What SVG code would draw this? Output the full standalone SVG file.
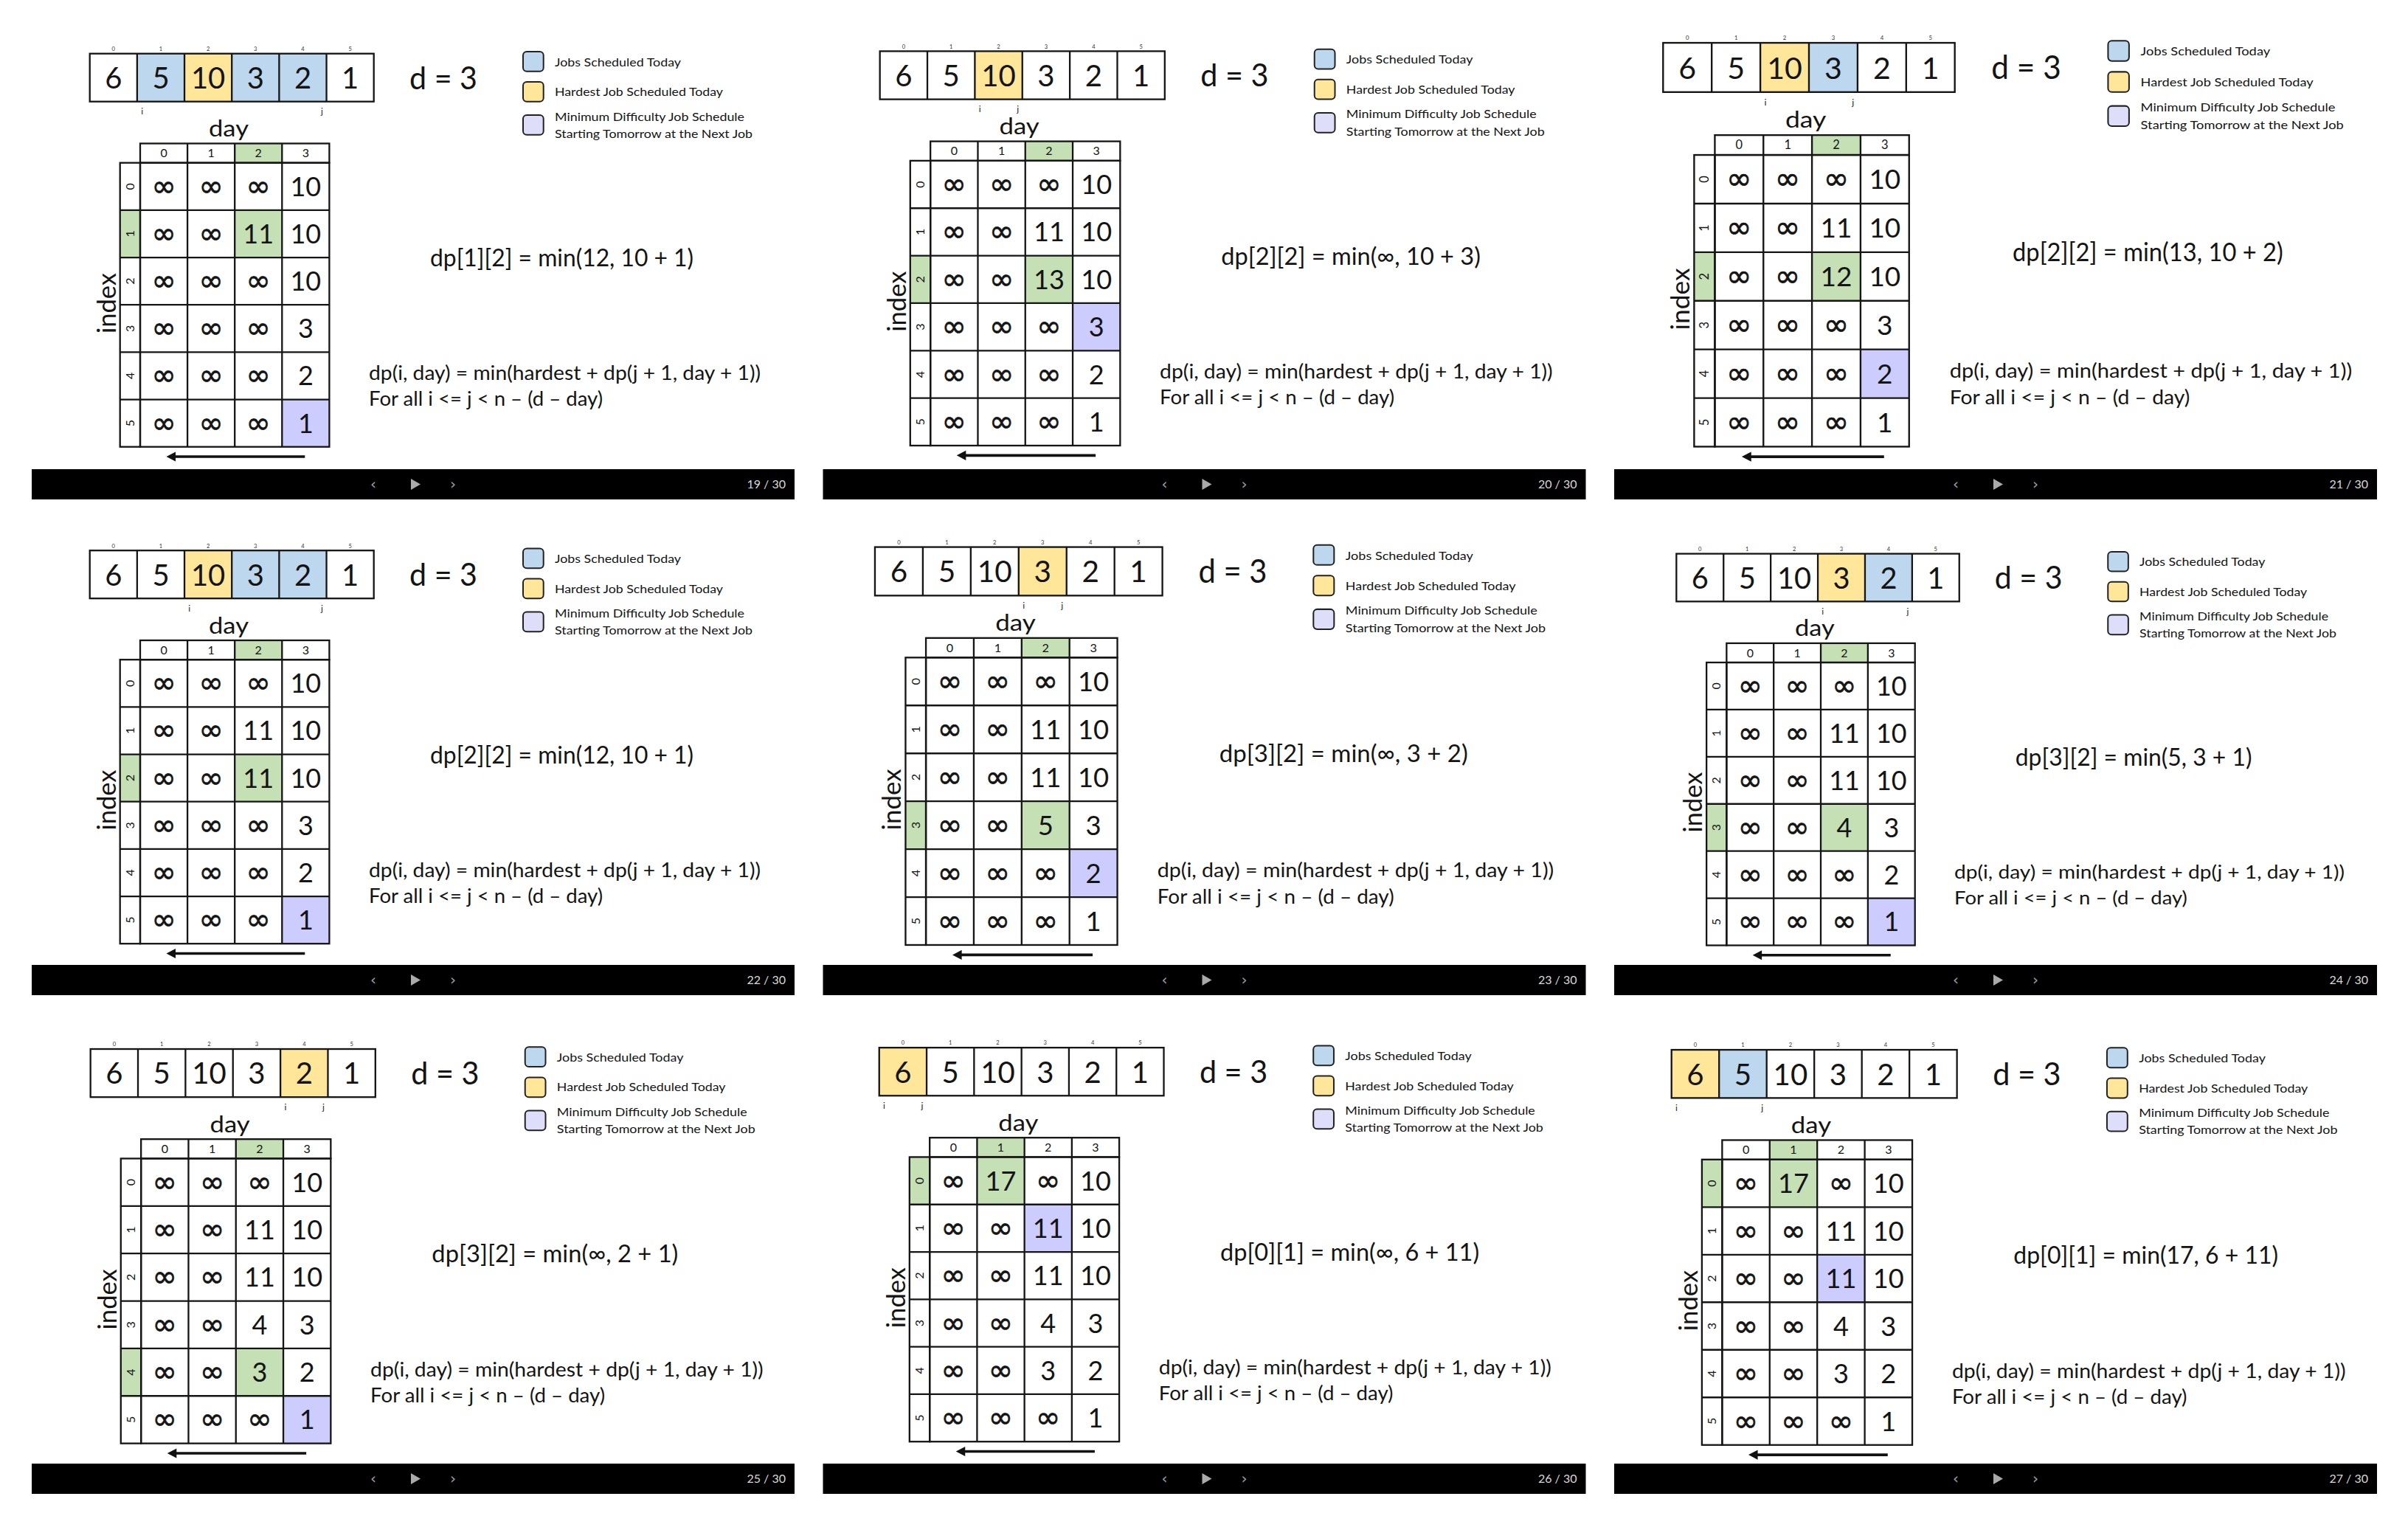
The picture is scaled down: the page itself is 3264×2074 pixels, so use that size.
<svg xmlns="http://www.w3.org/2000/svg" xmlns:xlink="http://www.w3.org/1999/xlink" width="3264" height="2074" viewBox="0 0 3264 2074">
<defs>
<style>
.ln{fill:none;stroke:#151515;stroke-width:2.3}
.bl{fill:#BDD7EE}.yl{fill:#FFE699}.gr{fill:#C5E0B4}.pu{fill:#CCCCFF}.pl{fill:#DEDEFA}
.t{font-family:Lato,'DejaVu Sans',sans-serif;fill:#141414}
.an{font-size:40px;text-anchor:middle}
.ai{font-size:7.5px;text-anchor:middle;fill:#333}
.hd{font-size:16px;text-anchor:middle}
.nv{font-size:36px;text-anchor:middle}
.inf{font-family:'DejaVu Sans',sans-serif;font-size:40px;text-anchor:middle;fill:#141414;stroke:#141414;stroke-width:0.7}
.lg{font-size:15.5px}
.f1{font-size:33px}
.f2{font-size:26px}
.ij{font-size:12px;text-anchor:middle;fill:#222}
.lb{stroke:#222;stroke-width:2}
.bar{fill:#000}
.ctl{font-family:'DejaVu Sans',sans-serif;font-size:20px;fill:#9a9a9a;text-anchor:middle}
.pg{font-family:Lato,sans-serif;font-size:16px;fill:#d8d8d8;text-anchor:end}
</style>
<g id="tpl">
<rect class="ln" x="121.7" y="72.7" width="385" height="65"/>
<path class="ln" d="M185.87 72.7V137.7M250.04 72.7V137.7M314.21 72.7V137.7M378.38 72.7V137.7M442.55 72.7V137.7"/>
<g class="t an">
<text x="153.8" y="120">6</text><text x="218" y="120">5</text><text x="282.1" y="120">10</text><text x="346.3" y="120">3</text><text x="410.5" y="120">2</text><text x="474.6" y="120">1</text>
</g>
<g class="t ai">
<text x="153.8" y="69">0</text><text x="218" y="69">1</text><text x="282.1" y="69">2</text><text x="346.3" y="69">3</text><text x="410.5" y="69">4</text><text x="474.6" y="69">5</text>
</g>
<text class="t" x="555" y="120.5" font-size="43" textLength="92" lengthAdjust="spacingAndGlyphs">d = 3</text>
<rect class="bl lb" x="709" y="70" width="27.7" height="26.7" rx="5"/>
<rect class="yl lb" x="709" y="111" width="27.7" height="26.7" rx="5"/>
<rect class="pl lb" x="709" y="156" width="27.7" height="26.7" rx="5"/>
<g class="t lg">
<text x="752" y="89.5" textLength="171" lengthAdjust="spacingAndGlyphs">Jobs Scheduled Today</text>
<text x="752" y="130" textLength="228" lengthAdjust="spacingAndGlyphs">Hardest Job Scheduled Today</text>
<text x="752" y="163.5" textLength="257" lengthAdjust="spacingAndGlyphs">Minimum Difficulty Job Schedule</text>
<text x="752" y="186.5" textLength="268" lengthAdjust="spacingAndGlyphs">Starting Tomorrow at the Next Job</text>
</g>
<text class="t" x="283" y="185" font-size="30" textLength="54" lengthAdjust="spacingAndGlyphs">day</text>
<rect class="ln" x="190" y="194.5" width="256.4" height="26.2"/>
<path class="ln" d="M254.1 194.5V220.7M318.2 194.5V220.7M382.3 194.5V220.7"/>
<g class="t hd">
<text x="222.05" y="213.3">0</text><text x="286.15" y="213.3">1</text><text x="350.25" y="213.3">2</text><text x="414.35" y="213.3">3</text>
</g>
<rect class="ln" x="162.7" y="220.7" width="27.3" height="385"/>
<rect class="ln" x="190" y="220.7" width="256.4" height="385"/>
<path class="ln" d="M162.7 284.87H446.4M162.7 349.04H446.4M162.7 413.21H446.4M162.7 477.38H446.4M162.7 541.55H446.4M254.1 220.7V605.7M318.2 220.7V605.7M382.3 220.7V605.7"/>
<g class="t hd">
<text transform="translate(176.35,252.8) rotate(-90)" y="5.7">0</text>
<text transform="translate(176.35,316.95) rotate(-90)" y="5.7">1</text>
<text transform="translate(176.35,381.1) rotate(-90)" y="5.7">2</text>
<text transform="translate(176.35,445.3) rotate(-90)" y="5.7">3</text>
<text transform="translate(176.35,509.45) rotate(-90)" y="5.7">4</text>
<text transform="translate(176.35,573.6) rotate(-90)" y="5.7">5</text>
</g>
<g class="inf">
<text x="222.05" y="265.8">∞</text><text x="222.05" y="329.95">∞</text><text x="222.05" y="394.1">∞</text><text x="222.05" y="458.3">∞</text><text x="222.05" y="522.45">∞</text><text x="222.05" y="586.6">∞</text>
</g>
<g class="t nv">
<text x="414.35" y="265.8">10</text><text x="414.35" y="329.95">10</text><text x="414.35" y="394.1">10</text><text x="414.35" y="458.3">3</text><text x="414.35" y="522.45">2</text><text x="414.35" y="586.6">1</text>
</g>
<text class="t" transform="translate(144,411) rotate(-90)" x="-41" y="12.7" font-size="34" textLength="82" lengthAdjust="spacingAndGlyphs">index</text>
<path d="M413.3 619H236" stroke="#111" stroke-width="3.6"/>
<polygon points="225.5,619 238,612.5 238,625.5" fill="#111"/>
<g class="t f2">
<text x="500" y="515" textLength="531" lengthAdjust="spacingAndGlyphs">dp(i, day) = min(hardest + dp(j + 1, day + 1))</text>
<text x="500" y="550" textLength="317" lengthAdjust="spacingAndGlyphs">For all i &lt;= j &lt; n – (d – day)</text>
</g>
</g>
</defs>
<rect width="3264" height="2074" fill="#fff"/>

<g id="panel-19">
<rect class="bl" x="185.87" y="72.7" width="64.17" height="65"/><rect class="yl" x="250.04" y="72.7" width="64.17" height="65"/><rect class="bl" x="314.21" y="72.7" width="64.17" height="65"/><rect class="bl" x="378.38" y="72.7" width="64.17" height="65"/>
<rect class="gr" x="318.2" y="194.5" width="64.1" height="26.2"/><rect class="gr" x="162.7" y="284.87" width="27.3" height="64.17"/><rect class="gr" x="318.2" y="284.87" width="64.1" height="64.17"/>
<rect class="pu" x="382.3" y="541.55" width="64.1" height="64.17"/>
<use xlink:href="#tpl"/>
<g class="inf"><text x="286.15" y="265.8">∞</text><text x="286.15" y="329.95">∞</text><text x="286.15" y="394.1">∞</text><text x="286.15" y="458.3">∞</text><text x="286.15" y="522.45">∞</text><text x="286.15" y="586.6">∞</text>
<text x="350.25" y="265.8">∞</text><text x="350.25" y="394.1">∞</text><text x="350.25" y="458.3">∞</text><text x="350.25" y="522.45">∞</text><text x="350.25" y="586.6">∞</text></g>
<g class="t nv"><text x="350.25" y="329.95">11</text></g>
<g class="t ij"><text x="192.7" y="155">i</text><text x="436.5" y="155">j</text></g>
<text class="t f1" x="583" y="361" textLength="357" lengthAdjust="spacingAndGlyphs">dp[1][2] = min(12, 10 + 1)</text>
</g>

<g id="panel-20" transform="translate(1070.6,-3.5) scale(1.003)">
<rect class="yl" x="250.04" y="72.7" width="64.17" height="65"/>
<rect class="gr" x="318.2" y="194.5" width="64.1" height="26.2"/><rect class="gr" x="162.7" y="349.04" width="27.3" height="64.17"/><rect class="gr" x="318.2" y="349.04" width="64.1" height="64.17"/>
<rect class="pu" x="382.3" y="413.21" width="64.1" height="64.17"/>
<use xlink:href="#tpl"/>
<g class="inf"><text x="286.15" y="265.8">∞</text><text x="286.15" y="329.95">∞</text><text x="286.15" y="394.1">∞</text><text x="286.15" y="458.3">∞</text><text x="286.15" y="522.45">∞</text><text x="286.15" y="586.6">∞</text>
<text x="350.25" y="265.8">∞</text><text x="350.25" y="458.3">∞</text><text x="350.25" y="522.45">∞</text><text x="350.25" y="586.6">∞</text></g>
<g class="t nv"><text x="350.25" y="329.95">11</text><text x="350.25" y="394.1">13</text></g>
<g class="t ij"><text x="256.8" y="155">i</text><text x="308.2" y="155">j</text></g>
<text class="t f1" x="583" y="361" textLength="350.5" lengthAdjust="spacingAndGlyphs">dp[2][2] = min(∞, 10 + 3)</text>
</g>

<g id="panel-21" transform="translate(2129.3,-16.6) scale(1.027)">
<rect class="yl" x="250.04" y="72.7" width="64.17" height="65"/><rect class="bl" x="314.21" y="72.7" width="64.17" height="65"/>
<rect class="gr" x="318.2" y="194.5" width="64.1" height="26.2"/><rect class="gr" x="162.7" y="349.04" width="27.3" height="64.17"/><rect class="gr" x="318.2" y="349.04" width="64.1" height="64.17"/>
<rect class="pu" x="382.3" y="477.38" width="64.1" height="64.17"/>
<use xlink:href="#tpl"/>
<g class="inf"><text x="286.15" y="265.8">∞</text><text x="286.15" y="329.95">∞</text><text x="286.15" y="394.1">∞</text><text x="286.15" y="458.3">∞</text><text x="286.15" y="522.45">∞</text><text x="286.15" y="586.6">∞</text>
<text x="350.25" y="265.8">∞</text><text x="350.25" y="458.3">∞</text><text x="350.25" y="522.45">∞</text><text x="350.25" y="586.6">∞</text></g>
<g class="t nv"><text x="350.25" y="329.95">11</text><text x="350.25" y="394.1">12</text></g>
<g class="t ij"><text x="256.8" y="155">i</text><text x="372.4" y="155">j</text></g>
<text class="t f1" x="583" y="361" textLength="357" lengthAdjust="spacingAndGlyphs">dp[2][2] = min(13, 10 + 2)</text>
</g>

<g id="panel-22" transform="translate(0,673.5)">
<rect class="yl" x="250.04" y="72.7" width="64.17" height="65"/><rect class="bl" x="314.21" y="72.7" width="64.17" height="65"/><rect class="bl" x="378.38" y="72.7" width="64.17" height="65"/>
<rect class="gr" x="318.2" y="194.5" width="64.1" height="26.2"/><rect class="gr" x="162.7" y="349.04" width="27.3" height="64.17"/><rect class="gr" x="318.2" y="349.04" width="64.1" height="64.17"/>
<rect class="pu" x="382.3" y="541.55" width="64.1" height="64.17"/>
<use xlink:href="#tpl"/>
<g class="inf"><text x="286.15" y="265.8">∞</text><text x="286.15" y="329.95">∞</text><text x="286.15" y="394.1">∞</text><text x="286.15" y="458.3">∞</text><text x="286.15" y="522.45">∞</text><text x="286.15" y="586.6">∞</text>
<text x="350.25" y="265.8">∞</text><text x="350.25" y="458.3">∞</text><text x="350.25" y="522.45">∞</text><text x="350.25" y="586.6">∞</text></g>
<g class="t nv"><text x="350.25" y="329.95">11</text><text x="350.25" y="394.1">11</text></g>
<g class="t ij"><text x="256.8" y="155">i</text><text x="436.5" y="155">j</text></g>
<text class="t f1" x="583" y="361" textLength="357" lengthAdjust="spacingAndGlyphs">dp[2][2] = min(12, 10 + 1)</text>
</g>

<g id="panel-23" transform="translate(1062.8,668) scale(1.012)">
<rect class="yl" x="314.21" y="72.7" width="64.17" height="65"/>
<rect class="gr" x="318.2" y="194.5" width="64.1" height="26.2"/><rect class="gr" x="162.7" y="413.21" width="27.3" height="64.17"/><rect class="gr" x="318.2" y="413.21" width="64.1" height="64.17"/>
<rect class="pu" x="382.3" y="477.38" width="64.1" height="64.17"/>
<use xlink:href="#tpl"/>
<g class="inf"><text x="286.15" y="265.8">∞</text><text x="286.15" y="329.95">∞</text><text x="286.15" y="394.1">∞</text><text x="286.15" y="458.3">∞</text><text x="286.15" y="522.45">∞</text><text x="286.15" y="586.6">∞</text>
<text x="350.25" y="265.8">∞</text><text x="350.25" y="522.45">∞</text><text x="350.25" y="586.6">∞</text></g>
<g class="t nv"><text x="350.25" y="329.95">11</text><text x="350.25" y="394.1">11</text><text x="350.25" y="458.3">5</text></g>
<g class="t ij"><text x="321" y="155">i</text><text x="372.4" y="155">j</text></g>
<text class="t f1" x="583" y="361" textLength="333" lengthAdjust="spacingAndGlyphs">dp[3][2] = min(∞, 3 + 2)</text>
</g>

<g id="panel-24" transform="translate(2151.1,678.2) scale(0.996)">
<rect class="yl" x="314.21" y="72.7" width="64.17" height="65"/><rect class="bl" x="378.38" y="72.7" width="64.17" height="65"/>
<rect class="gr" x="318.2" y="194.5" width="64.1" height="26.2"/><rect class="gr" x="162.7" y="413.21" width="27.3" height="64.17"/><rect class="gr" x="318.2" y="413.21" width="64.1" height="64.17"/>
<rect class="pu" x="382.3" y="541.55" width="64.1" height="64.17"/>
<use xlink:href="#tpl"/>
<g class="inf"><text x="286.15" y="265.8">∞</text><text x="286.15" y="329.95">∞</text><text x="286.15" y="394.1">∞</text><text x="286.15" y="458.3">∞</text><text x="286.15" y="522.45">∞</text><text x="286.15" y="586.6">∞</text>
<text x="350.25" y="265.8">∞</text><text x="350.25" y="522.45">∞</text><text x="350.25" y="586.6">∞</text></g>
<g class="t nv"><text x="350.25" y="329.95">11</text><text x="350.25" y="394.1">11</text><text x="350.25" y="458.3">4</text></g>
<g class="t ij"><text x="321" y="155">i</text><text x="436.5" y="155">j</text></g>
<text class="t f1" x="583" y="361" textLength="322" lengthAdjust="spacingAndGlyphs">dp[3][2] = min(5, 3 + 1)</text>
</g>

<g id="panel-25" transform="translate(0.6,1349.1) scale(1.003)">
<rect class="yl" x="378.38" y="72.7" width="64.17" height="65"/>
<rect class="gr" x="318.2" y="194.5" width="64.1" height="26.2"/><rect class="gr" x="162.7" y="477.38" width="27.3" height="64.17"/><rect class="gr" x="318.2" y="477.38" width="64.1" height="64.17"/>
<rect class="pu" x="382.3" y="541.55" width="64.1" height="64.17"/>
<use xlink:href="#tpl"/>
<g class="inf"><text x="286.15" y="265.8">∞</text><text x="286.15" y="329.95">∞</text><text x="286.15" y="394.1">∞</text><text x="286.15" y="458.3">∞</text><text x="286.15" y="522.45">∞</text><text x="286.15" y="586.6">∞</text>
<text x="350.25" y="265.8">∞</text><text x="350.25" y="586.6">∞</text></g>
<g class="t nv"><text x="350.25" y="329.95">11</text><text x="350.25" y="394.1">11</text><text x="350.25" y="458.3">4</text><text x="350.25" y="522.45">3</text></g>
<g class="t ij"><text x="385.2" y="155">i</text><text x="436.5" y="155">j</text></g>
<text class="t f1" x="583" y="361" textLength="333" lengthAdjust="spacingAndGlyphs">dp[3][2] = min(∞, 2 + 1)</text>
</g>

<g id="panel-26" transform="translate(1069.8,1347.3) scale(1.002)">
<rect class="yl" x="121.7" y="72.7" width="64.17" height="65"/>
<rect class="gr" x="254.1" y="194.5" width="64.1" height="26.2"/><rect class="gr" x="162.7" y="220.7" width="27.3" height="64.17"/><rect class="gr" x="254.1" y="220.7" width="64.1" height="64.17"/>
<rect class="pu" x="318.2" y="284.87" width="64.1" height="64.17"/>
<use xlink:href="#tpl"/>
<g class="inf"><text x="286.15" y="329.95">∞</text><text x="286.15" y="394.1">∞</text><text x="286.15" y="458.3">∞</text><text x="286.15" y="522.45">∞</text><text x="286.15" y="586.6">∞</text>
<text x="350.25" y="265.8">∞</text><text x="350.25" y="586.6">∞</text></g>
<g class="t nv"><text x="286.15" y="265.8">17</text><text x="350.25" y="329.95">11</text><text x="350.25" y="394.1">11</text><text x="350.25" y="458.3">4</text><text x="350.25" y="522.45">3</text></g>
<g class="t ij"><text x="128.5" y="155">i</text><text x="179.9" y="155">j</text></g>
<text class="t f1" x="583" y="361" textLength="350.5" lengthAdjust="spacingAndGlyphs">dp[0][1] = min(∞, 6 + 11)</text>
</g>

<g id="panel-27" transform="translate(2143.4,1350) scale(1.005)">
<rect class="yl" x="121.7" y="72.7" width="64.17" height="65"/><rect class="bl" x="185.87" y="72.7" width="64.17" height="65"/>
<rect class="gr" x="254.1" y="194.5" width="64.1" height="26.2"/><rect class="gr" x="162.7" y="220.7" width="27.3" height="64.17"/><rect class="gr" x="254.1" y="220.7" width="64.1" height="64.17"/>
<rect class="pu" x="318.2" y="349.04" width="64.1" height="64.17"/>
<use xlink:href="#tpl"/>
<g class="inf"><text x="286.15" y="329.95">∞</text><text x="286.15" y="394.1">∞</text><text x="286.15" y="458.3">∞</text><text x="286.15" y="522.45">∞</text><text x="286.15" y="586.6">∞</text>
<text x="350.25" y="265.8">∞</text><text x="350.25" y="586.6">∞</text></g>
<g class="t nv"><text x="286.15" y="265.8">17</text><text x="350.25" y="329.95">11</text><text x="350.25" y="394.1">11</text><text x="350.25" y="458.3">4</text><text x="350.25" y="522.45">3</text></g>
<g class="t ij"><text x="128.5" y="155">i</text><text x="244" y="155">j</text></g>
<text class="t f1" x="583" y="361" textLength="357" lengthAdjust="spacingAndGlyphs">dp[0][1] = min(17, 6 + 11)</text>
</g>

<g id="player-bars">
<g id="bar-19"><rect class="bar" x="43" y="636" width="1034" height="41"/><text class="ctl" x="506" y="663">‹</text><polygon points="557,649 570,656.5 557,664" fill="#aaa"/><text class="ctl" x="614" y="663">›</text><text class="pg" x="1065" y="662">19 / 30</text></g>
<g id="bar-20"><rect class="bar" x="1115.5" y="636" width="1034" height="41"/><text class="ctl" x="1578.5" y="663">‹</text><polygon points="1629.5,649 1642.5,656.5 1629.5,664" fill="#aaa"/><text class="ctl" x="1686.5" y="663">›</text><text class="pg" x="2137.5" y="662">20 / 30</text></g>
<g id="bar-21"><rect class="bar" x="2188" y="636" width="1034" height="41"/><text class="ctl" x="2651" y="663">‹</text><polygon points="2702,649 2715,656.5 2702,664" fill="#aaa"/><text class="ctl" x="2759" y="663">›</text><text class="pg" x="3210" y="662">21 / 30</text></g>
<g id="bar-22"><rect class="bar" x="43" y="1308" width="1034" height="41"/><text class="ctl" x="506" y="1335">‹</text><polygon points="557,1321 570,1328.5 557,1336" fill="#aaa"/><text class="ctl" x="614" y="1335">›</text><text class="pg" x="1065" y="1334">22 / 30</text></g>
<g id="bar-23"><rect class="bar" x="1115.5" y="1308" width="1034" height="41"/><text class="ctl" x="1578.5" y="1335">‹</text><polygon points="1629.5,1321 1642.5,1328.5 1629.5,1336" fill="#aaa"/><text class="ctl" x="1686.5" y="1335">›</text><text class="pg" x="2137.5" y="1334">23 / 30</text></g>
<g id="bar-24"><rect class="bar" x="2188" y="1308" width="1034" height="41"/><text class="ctl" x="2651" y="1335">‹</text><polygon points="2702,1321 2715,1328.5 2702,1336" fill="#aaa"/><text class="ctl" x="2759" y="1335">›</text><text class="pg" x="3210" y="1334">24 / 30</text></g>
<g id="bar-25"><rect class="bar" x="43" y="1984" width="1034" height="41"/><text class="ctl" x="506" y="2011">‹</text><polygon points="557,1997 570,2004.5 557,2012" fill="#aaa"/><text class="ctl" x="614" y="2011">›</text><text class="pg" x="1065" y="2010">25 / 30</text></g>
<g id="bar-26"><rect class="bar" x="1115.5" y="1984" width="1034" height="41"/><text class="ctl" x="1578.5" y="2011">‹</text><polygon points="1629.5,1997 1642.5,2004.5 1629.5,2012" fill="#aaa"/><text class="ctl" x="1686.5" y="2011">›</text><text class="pg" x="2137.5" y="2010">26 / 30</text></g>
<g id="bar-27"><rect class="bar" x="2188" y="1984" width="1034" height="41"/><text class="ctl" x="2651" y="2011">‹</text><polygon points="2702,1997 2715,2004.5 2702,2012" fill="#aaa"/><text class="ctl" x="2759" y="2011">›</text><text class="pg" x="3210" y="2010">27 / 30</text></g>
</g>
</svg>
